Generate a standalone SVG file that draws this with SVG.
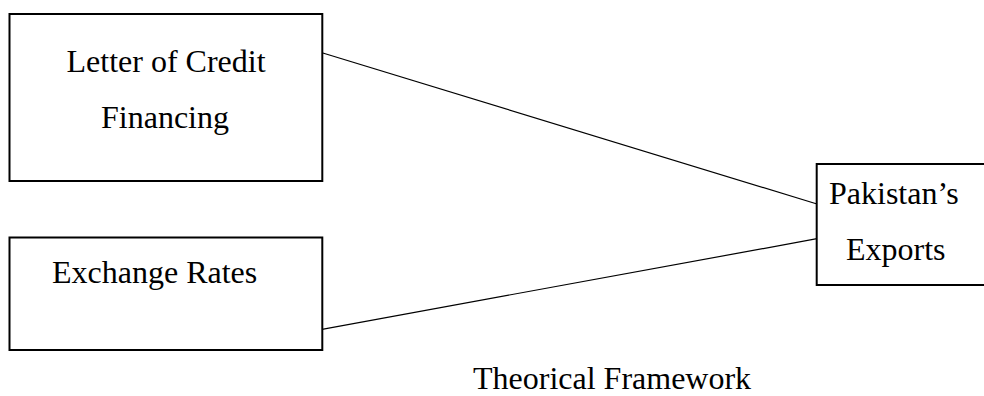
<svg xmlns="http://www.w3.org/2000/svg" width="984" height="396" viewBox="0 0 984 396">
<style>
.box{fill:#fff;stroke:#000;stroke-width:2}
.lbl{font-family:"Liberation Serif","Times New Roman",serif;font-size:32px;fill:#000}
.conn{stroke:#000;stroke-width:1.2;fill:none}
</style>
<rect width="984" height="396" fill="#fff"/>
<g id="connectors">
<line class="conn" x1="322" y1="52.7" x2="817" y2="204"/>
<line class="conn" x1="322" y1="329.3" x2="817" y2="238.7"/>
</g>
<g id="node-lc">
<rect class="box" x="9.5" y="14" width="312.8" height="167"/>
<text class="lbl" x="166" y="72" text-anchor="middle">Letter of Credit</text>
<text class="lbl" x="165" y="128" text-anchor="middle">Financing</text>
</g>
<g id="node-er">
<rect class="box" x="9.5" y="237.5" width="312.8" height="112.5"/>
<text class="lbl" x="52" y="283">Exchange Rates</text>
</g>
<g id="node-pe">
<rect class="box" x="816.7" y="164" width="170" height="121"/>
<text class="lbl" x="829" y="204">Pakistan’s</text>
<text class="lbl" x="846" y="260">Exports</text>
</g>
<text class="lbl" x="473" y="389">Theorical Framework</text>
</svg>
